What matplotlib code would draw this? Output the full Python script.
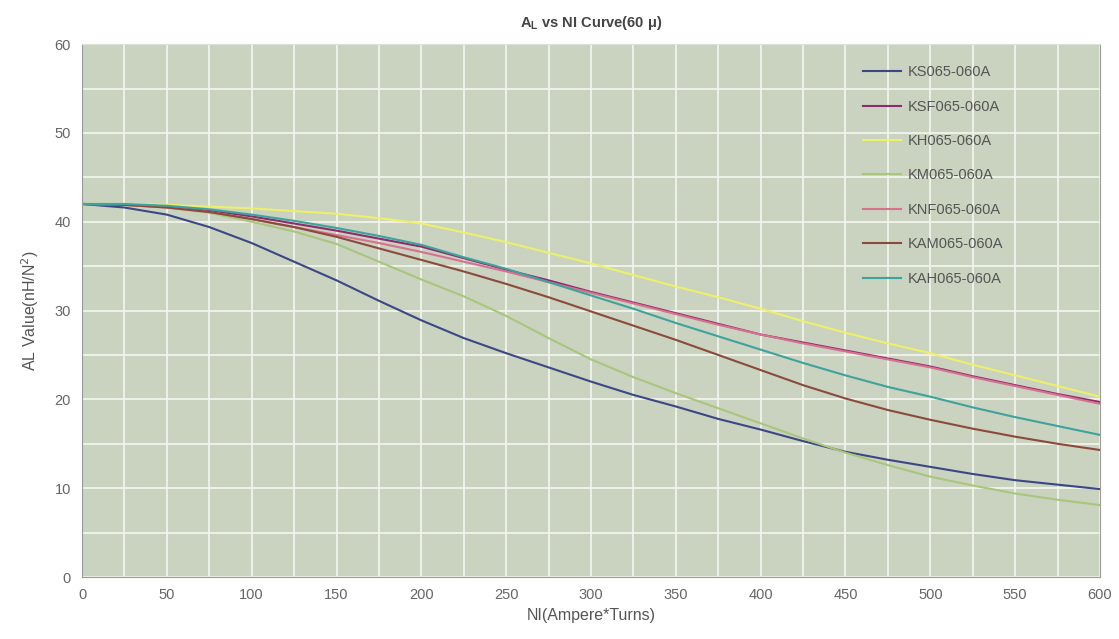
import matplotlib
matplotlib.use("Agg")
import matplotlib.pyplot as plt
from matplotlib.ticker import MultipleLocator

plt.rcParams['font.family'] = ['Liberation Sans', 'DejaVu Sans']

ni = [0, 25, 50, 75, 100, 125, 150, 175, 200, 225, 250, 275, 300,
      325, 350, 375, 400, 425, 450, 475, 500, 525, 550, 575, 600]

ks065 = [42.0, 41.6, 40.8, 39.4, 37.6, 35.5, 33.4, 31.1, 28.9, 26.9, 25.2, 23.6, 22.0,
         20.5, 19.2, 17.8, 16.6, 15.3, 14.1, 13.2, 12.4, 11.6, 10.9, 10.4, 9.9]
ksf065 = [42.0, 41.9, 41.7, 41.3, 40.6, 39.8, 39.0, 38.1, 37.2, 35.9, 34.6, 33.4, 32.1,
          30.9, 29.7, 28.5, 27.3, 26.4, 25.5, 24.6, 23.7, 22.6, 21.6, 20.6, 19.7]
kh065 = [42.0, 42.0, 41.9, 41.7, 41.5, 41.2, 40.9, 40.4, 39.8, 38.8, 37.7, 36.5, 35.3,
         34.0, 32.7, 31.5, 30.2, 28.8, 27.5, 26.3, 25.2, 23.9, 22.7, 21.5, 20.3]
km065 = [42.0, 41.9, 41.6, 41.0, 40.0, 38.9, 37.5, 35.5, 33.5, 31.6, 29.4, 26.9, 24.5,
         22.5, 20.7, 19.0, 17.3, 15.6, 14.0, 12.6, 11.3, 10.3, 9.4, 8.7, 8.1]
knf065 = [42.0, 41.9, 41.6, 41.1, 40.3, 39.4, 38.5, 37.6, 36.6, 35.5, 34.4, 33.2, 32.0,
          30.8, 29.6, 28.4, 27.3, 26.3, 25.4, 24.5, 23.6, 22.5, 21.5, 20.5, 19.5]
kam065 = [42.0, 41.9, 41.6, 41.1, 40.3, 39.4, 38.3, 37.0, 35.7, 34.4, 33.0, 31.5, 29.9,
          28.3, 26.7, 25.0, 23.3, 21.6, 20.1, 18.8, 17.7, 16.7, 15.8, 15.0, 14.3]
kah065 = [42.0, 42.0, 41.8, 41.4, 40.8, 40.1, 39.3, 38.4, 37.4, 36.0, 34.7, 33.2, 31.7,
          30.2, 28.6, 27.1, 25.6, 24.1, 22.7, 21.4, 20.3, 19.1, 18.0, 17.0, 16.0]

series = [
    ("KS065-060A", ks065, "#3c4785"),
    ("KSF065-060A", ksf065, "#8c2c6e"),
    ("KH065-060A", kh065, "#eef06a"),
    ("KM065-060A", km065, "#a9c67c"),
    ("KNF065-060A", knf065, "#d9708f"),
    ("KAM065-060A", kam065, "#8b4a3c"),
    ("KAH065-060A", kah065, "#3fa39d"),
]

fig = plt.figure(figsize=(11.19, 6.39), dpi=100)
ax = fig.add_axes([0.0733, 0.097, 0.9097, 0.834])
ax.set_facecolor("#c9d3c0")

for name, vals, col in series:
    ax.plot(ni, vals, color=col, lw=1.5, label=name)

ax.set_xlim(0, 600)
ax.set_ylim(0, 60)
ax.xaxis.set_major_locator(MultipleLocator(50))
ax.xaxis.set_minor_locator(MultipleLocator(25))
ax.yaxis.set_major_locator(MultipleLocator(10))
ax.yaxis.set_minor_locator(MultipleLocator(5))
ax.grid(which="both", color="#f4f6ee", lw=1.2)
ax.set_axisbelow(True)
ax.tick_params(which="both", length=0, colors="#666666", labelsize=10.5, pad=8)

for s in ax.spines.values():
    s.set_color("#9a9a9a")
ax.spines["top"].set_color("#dde2d6")

ax.set_xlabel("NI(Ampere*Turns)", color="#555555", fontsize=11.5, labelpad=4)
ax.set_ylabel("AL Value(nH/N$^2$)", color="#555555", fontsize=11.5, labelpad=10)
ax.set_title(r"A$_\mathregular{L}$ vs NI Curve(60 μ)", fontsize=10.5,
             fontweight="bold", color="#444444", pad=12)

leg = ax.legend(loc="upper left", bbox_to_anchor=(0.754, 0.985), frameon=False,
                fontsize=10.5, labelspacing=1.4, handlelength=2.6, handletextpad=0.5)
for t in leg.get_texts():
    t.set_color("#555555")

fig.savefig("out.png", dpi=100)
